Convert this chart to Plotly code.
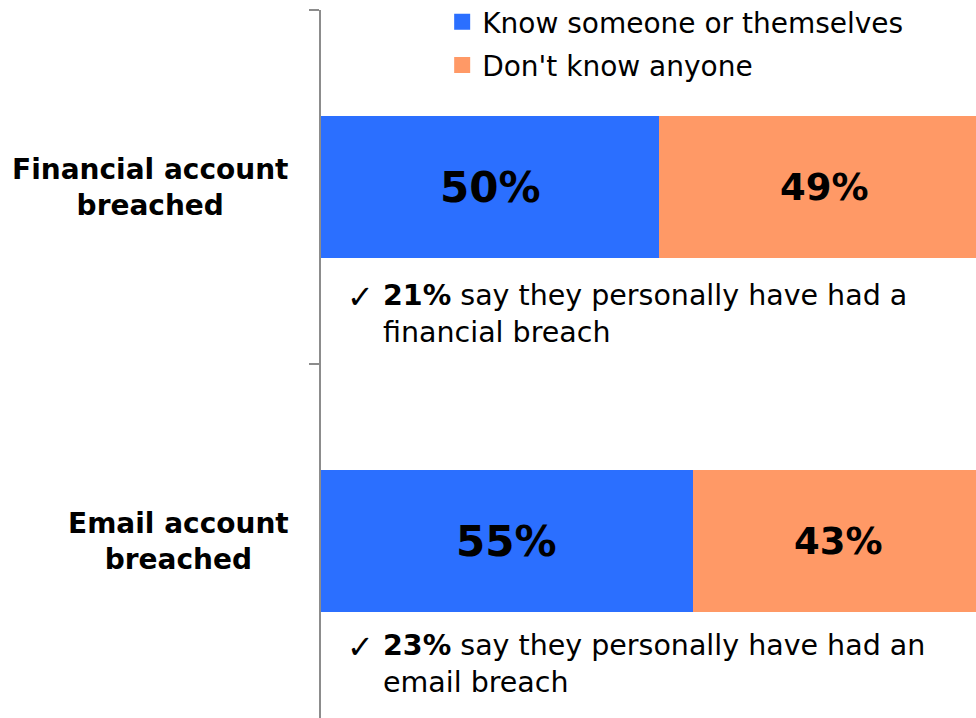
import plotly.graph_objects as go

# Survey results: share who know someone (or themselves) affected by a breach
categories = ["Financial account<br>breached", "Email account<br>breached"]
know_someone = [50, 55]
dont_know = [49, 43]
personal_pct = [21, 23]
personal_text = [
    "say they personally have had a<br>financial breach",
    "say they personally have had an<br>email breach",
]
series_names = ["Know someone or themselves", "Don't know anyone"]

BLUE = "#2B6FFF"
ORANGE = "#FF9966"
FONT = "DejaVu Sans"
AXIS_GREY = "#8C8C8C"

ypos = list(range(len(categories)))

fig = go.Figure()
fig.add_trace(go.Bar(
    y=ypos, x=know_someone, orientation="h", width=0.4,
    marker=dict(color=BLUE, line=dict(width=0)), showlegend=False,
    hoverinfo="skip",
))
fig.add_trace(go.Bar(
    y=ypos, x=dont_know, orientation="h", width=0.4,
    marker=dict(color=ORANGE, line=dict(width=0)), showlegend=False,
    hoverinfo="skip",
))

# Legend entries (square swatches), one legend per row
for i, (name, col) in enumerate(zip(series_names, [BLUE, ORANGE])):
    fig.add_trace(go.Scatter(
        x=[None], y=[None], mode="markers", name=name,
        marker=dict(symbol="square", size=16, color=col),
        legend="legend" if i == 0 else "legend2",
    ))

annotations = []
# Value labels centred on each segment
for i in ypos:
    a, b = know_someone[i], dont_know[i]
    annotations.append(dict(
        x=a / 2, y=i, xref="x", yref="y", text=f"<b>{a}%</b>",
        showarrow=False, font=dict(family=FONT, size=42, color="black"),
    ))
    annotations.append(dict(
        x=a + b / 2, y=i, xref="x", yref="y", text=f"<b>{b}%</b>",
        showarrow=False, font=dict(family=FONT, size=37, color="black"),
    ))
    # Category label to the left of the axis
    annotations.append(dict(
        x=0, y=i, xref="paper", yref="y", text=f"<b>{categories[i]}</b>",
        xanchor="right", yanchor="middle", xshift=-30, align="center",
        showarrow=False, font=dict(family=FONT, size=28, color="black"),
    ))

# Footnotes below each bar
note_shift = [-127, -123]
for i in ypos:
    annotations.append(dict(
        x=0, y=i, xref="paper", yref="y", text="✓",
        xanchor="left", yanchor="middle", xshift=24, yshift=note_shift[i] + 17,
        showarrow=False, font=dict(family=FONT, size=32, color="black"),
    ))
    annotations.append(dict(
        x=0, y=i, xref="paper", yref="y",
        text=f"<b>{personal_pct[i]}%</b> {personal_text[i]}",
        xanchor="left", yanchor="middle", xshift=60, yshift=note_shift[i],
        align="left", showarrow=False,
        font=dict(family=FONT, size=28.5, color="black"),
    ))

px_per_pct = 6.762
plot_w = 976 - 321

fig.update_layout(
    width=976, height=718,
    margin=dict(l=321, r=0, t=10, b=0, autoexpand=False),
    paper_bgcolor="white", plot_bgcolor="white",
    barmode="stack", bargap=0,
    font=dict(family=FONT, color="black"),
    annotations=annotations,
    xaxis=dict(range=[0, plot_w / px_per_pct], visible=False, fixedrange=True),
    yaxis=dict(
        range=[1.5, -0.5], tickvals=[-0.5, 0.5], showticklabels=False,
        ticks="outside", ticklen=10, tickwidth=2, tickcolor=AXIS_GREY,
        showline=True, linecolor=AXIS_GREY, linewidth=2, showgrid=False,
        zeroline=False, fixedrange=True,
    ),
    legend=dict(
        x=0.185, y=0.983, xanchor="left", yanchor="middle", yref="paper",
        bgcolor="rgba(0,0,0,0)", font=dict(family=FONT, size=28, color="black"),
    ),
    legend2=dict(
        x=0.185, y=0.922, xanchor="left", yanchor="middle", yref="paper",
        bgcolor="rgba(0,0,0,0)", font=dict(family=FONT, size=28, color="black"),
    ),
)

fig.write_html("out.html")
